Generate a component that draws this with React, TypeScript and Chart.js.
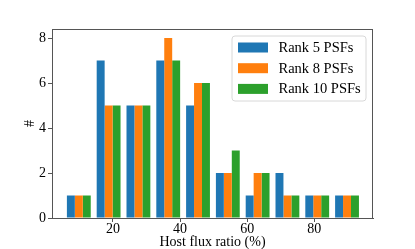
import React, { useEffect, useRef } from "react";
import { Chart, registerables } from "chart.js";

Chart.register(...registerables);

const binCenters = [9.84, 18.72, 27.6, 36.48, 45.36, 54.24, 63.12, 72.0, 80.88, 89.76];
const rank5 = [1, 7, 5, 7, 5, 2, 1, 2, 1, 1];
const rank8 = [1, 5, 5, 8, 6, 2, 2, 1, 1, 1];
const rank10 = [1, 5, 5, 7, 6, 3, 2, 1, 1, 1];
const seriesLabels = ["Rank 5 PSFs", "Rank 8 PSFs", "Rank 10 PSFs"];
const seriesColors = ["#1f77b4", "#ff7f0e", "#2ca02c"];
const xTicks = [20, 40, 60, 80];
const yTicks = [0, 2, 4, 6, 8];

const FONT = "'Liberation Serif', 'DejaVu Serif', serif";
const SPINE = "#555555";

const framePlugin = {
  id: "frameAndLegend",
  afterDraw(chart: any) {
    const { ctx, chartArea } = chart;
    const { left, right, top, bottom } = chartArea;
    ctx.save();
    ctx.strokeStyle = SPINE;
    ctx.lineWidth = 1;
    ctx.beginPath();
    ctx.moveTo(left, top + 0.5);
    ctx.lineTo(right, top + 0.5);
    ctx.moveTo(right - 0.5, top);
    ctx.lineTo(right - 0.5, bottom);
    ctx.stroke();

    // legend box (inside, upper right)
    const bx = right - 141;
    const by = top + 7;
    const bw = 134;
    const bh = 65;
    const r = 3;
    ctx.beginPath();
    ctx.moveTo(bx + r, by);
    ctx.lineTo(bx + bw - r, by);
    ctx.quadraticCurveTo(bx + bw, by, bx + bw, by + r);
    ctx.lineTo(bx + bw, by + bh - r);
    ctx.quadraticCurveTo(bx + bw, by + bh, bx + bw - r, by + bh);
    ctx.lineTo(bx + r, by + bh);
    ctx.quadraticCurveTo(bx, by + bh, bx, by + bh - r);
    ctx.lineTo(bx, by + r);
    ctx.quadraticCurveTo(bx, by, bx + r, by);
    ctx.closePath();
    ctx.fillStyle = "rgba(255,255,255,0.8)";
    ctx.fill();
    ctx.strokeStyle = "#d8d8d8";
    ctx.lineWidth = 1;
    ctx.stroke();

    ctx.font = `14.5px ${FONT}`;
    ctx.textBaseline = "middle";
    ctx.textAlign = "left";
    chart.data.datasets.forEach((ds: any, i: number) => {
      const cy = by + 11.5 + i * 20.7;
      ctx.fillStyle = ds.backgroundColor;
      ctx.fillRect(bx + 6, cy - 5, 30, 10);
      ctx.fillStyle = "#000";
      ctx.fillText(ds.label, bx + 46.5, cy + 0.5);
    });
    ctx.restore();
  },
};

export default function App() {
  const ref = useRef<HTMLCanvasElement | null>(null);

  useEffect(() => {
    document.body.style.margin = "0";
    if (!ref.current) return;
    const mk = (vals: number[]) => vals.map((v, i) => ({ x: binCenters[i], y: v }));
    const series = [rank5, rank8, rank10];
    const chart = new Chart(ref.current, {
      type: "bar",
      data: {
        datasets: series.map((s, i) => ({
          label: seriesLabels[i],
          data: mk(s),
          backgroundColor: seriesColors[i],
          borderWidth: 0,
          categoryPercentage: 0.8,
          barPercentage: 1.0,
        })),
      },
      options: {
        animation: false,
        responsive: false,
        devicePixelRatio: 1,
        layout: { padding: { top: 29, right: 42, left: 23.5, bottom: 0 } },
        plugins: {
          legend: { display: false },
          tooltip: { enabled: false },
        },
        scales: {
          x: {
            type: "linear",
            min: 1.85,
            max: 97.5,
            offset: false,
            afterBuildTicks: (s: any) => {
              s.ticks = xTicks.map((v) => ({ value: v }));
            },
            afterFit: (s: any) => {
              s.height = 31;
            },
            ticks: {
              color: "#000",
              font: { family: FONT, size: 14 },
              padding: -1.5,
              maxRotation: 0,
            },
            grid: {
              offset: false,
              drawOnChartArea: false,
              drawTicks: true,
              tickLength: 4,
              color: SPINE,
            },
            border: { display: true, color: SPINE, width: 1 },
            title: {
              display: true,
              text: "Host flux ratio (%)",
              color: "#000",
              font: { family: FONT, size: 14, lineHeight: 1 },
              padding: 0,
            },
          },
          y: {
            type: "linear",
            min: 0,
            max: 8.4,
            afterBuildTicks: (s: any) => {
              s.ticks = yTicks.map((v) => ({ value: v }));
            },
            afterFit: (s: any) => {
              s.width = 28.5;
            },
            ticks: {
              color: "#000",
              font: { family: FONT, size: 14 },
              padding: 2,
            },
            grid: {
              offset: false,
              drawOnChartArea: false,
              drawTicks: true,
              tickLength: 4,
              color: SPINE,
            },
            border: { display: true, color: SPINE, width: 1 },
            title: {
              display: true,
              text: "#",
              color: "#000",
              font: { family: FONT, size: 14, lineHeight: 1 },
              padding: 0,
            },
          },
        },
      },
      plugins: [framePlugin],
    });
    return () => chart.destroy();
  }, []);

  return (
    <div style={{ position: "fixed", left: 0, top: 0, width: 415, height: 249 }}>
      <canvas ref={ref} width={415} height={249} style={{ width: 415, height: 249 }} />
    </div>
  );
}
